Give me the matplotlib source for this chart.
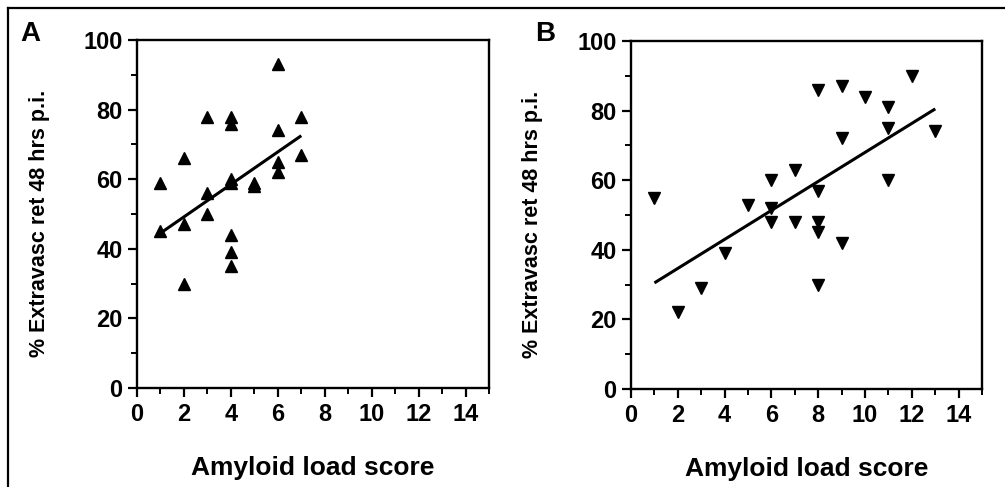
# Extravasation retention vs amyloid load score, panels A and B

import numpy as np
import matplotlib
matplotlib.use('Agg')
import matplotlib.pyplot as plt
from matplotlib.lines import Line2D
from matplotlib.ticker import MultipleLocator

plt.rcParams['font.family'] = ['Liberation Sans', 'DejaVu Sans']
plt.rcParams['font.weight'] = 'bold'

# panel A (up triangles)
a_x = [1, 1, 2, 2, 2, 3, 3, 3, 4, 4, 4, 4, 4, 4, 4, 5, 5, 6, 6, 6, 6, 7, 7]
a_y = [59, 45, 66, 47, 30, 78, 56, 50, 78, 76, 60, 59, 44, 39, 35, 59, 58, 93, 74, 65, 62, 78, 67]
a_fit_x = [1, 7]
a_fit_y = [44.5, 72.5]

# panel B (down triangles)
b_x = [1, 2, 3, 4, 5, 6, 6, 6, 7, 7, 8, 8, 8, 8, 8, 9, 9, 9, 10, 11, 11, 11, 12, 13]
b_y = [55, 22, 29, 39, 53, 60, 52, 48, 63, 48, 86, 57, 48, 45, 30, 87, 72, 42, 84, 81, 75, 60, 90, 74]
b_fit_x = [1, 13]
b_fit_y = [30.5, 80.5]

xticks = [0, 2, 4, 6, 8, 10, 12, 14]
yticks = [0, 20, 40, 60, 80, 100]

fig = plt.figure(figsize=(10.05, 4.87), dpi=100)

def panel(rect, xs, ys, fx, fy, marker, letter, letter_x, ylab_x):
    ax = fig.add_axes(rect)
    ax.plot(xs, ys, linestyle='none', marker=marker, ms=8, color='black')
    ax.plot(fx, fy, color='black', lw=2.2, solid_capstyle='butt')
    ax.set_xlim(0, 15)
    ax.set_ylim(0, 100)
    ax.set_xticks(xticks)
    ax.set_yticks(yticks)
    ax.xaxis.set_minor_locator(MultipleLocator(1))
    ax.yaxis.set_minor_locator(MultipleLocator(10))
    ax.tick_params(which='major', direction='out', length=6.5, width=1.6,
                   labelsize=17, pad=4, top=False, right=False)
    ax.tick_params(which='minor', direction='out', length=4, width=1.4,
                   top=False, right=False)
    for s in ax.spines.values():
        s.set_linewidth(1.7)
    ax.set_xlabel('Amyloid load score', fontsize=19, fontweight='bold')
    ax.set_ylabel('% Extravasc ret 48 hrs p.i.', fontsize=15.5, fontweight='bold')
    ax.xaxis.set_label_coords(0.5, -0.195)
    ax.yaxis.set_label_coords(ylab_x, 0.473)
    fig.text(letter_x, 0.93, letter, fontsize=20, fontweight='bold',
             ha='center', va='center')
    return ax

panel([0.1363, 0.2033, 0.3503, 0.7146], a_x, a_y, a_fit_x, a_fit_y, '^', 'A', 0.0299, -0.247)
panel([0.6279, 0.2012, 0.3493, 0.7146], b_x, b_y, b_fit_x, b_fit_y, 'v', 'B', 0.542, -0.251)

# outer frame (left and top edges)
fig.add_artist(Line2D([0.008, 0.008], [0.0, 0.984], transform=fig.transFigure, color='black', lw=1.6))
fig.add_artist(Line2D([0.008, 1.0], [0.984, 0.984], transform=fig.transFigure, color='black', lw=1.6))

fig.savefig('out.png', dpi=100)
